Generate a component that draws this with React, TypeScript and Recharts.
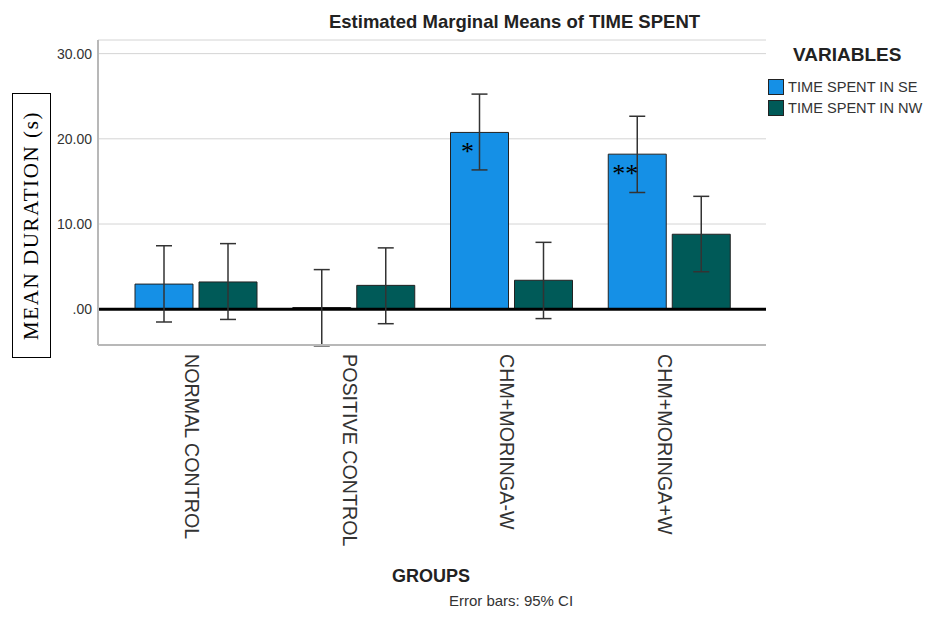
import { BarChart, Bar, XAxis, YAxis, CartesianGrid, ErrorBar, ReferenceLine, Legend, LabelList } from 'recharts';

const groups = ['NORMAL CONTROL', 'POSITIVE CONTROL', 'CHM+MORINGA-W', 'CHM+MORINGA+W'];

// TIME SPENT IN SE
const seMean = [2.95, 0.2, 20.75, 18.2];
const seLow = [-1.5, -4.3, 16.35, 13.7];
const seHigh = [7.45, 4.65, 25.25, 22.65];
const seMarks = ['', '', '*', '**'];

// TIME SPENT IN NW
const nwMean = [3.2, 2.8, 3.4, 8.8];
const nwLow = [-1.2, -1.7, -1.1, 4.4];
const nwHigh = [7.7, 7.2, 7.85, 13.25];

const yTicks = [0, 10, 20, 30];

const SE_COLOR = '#1590e6';
const NW_COLOR = '#005a58';
const FONT = '"Liberation Sans", Arial, sans-serif';
const SERIF = '"Liberation Serif", "Times New Roman", serif';

const data = groups.map((g, i) => ({
  group: g,
  se: seMean[i],
  seErr: [seMean[i] - seLow[i], seHigh[i] - seMean[i]],
  seMark: seMarks[i],
  nw: nwMean[i],
  nwErr: [nwMean[i] - nwLow[i], nwHigh[i] - nwMean[i]],
}));

const legendItems = [
  { label: 'TIME SPENT IN SE', color: SE_COLOR },
  { label: 'TIME SPENT IN NW', color: NW_COLOR },
];

const formatY = (v: number) => (v === 0 ? '.00' : v.toFixed(2));

const GroupTick = (props: any) => {
  const { x, y, payload } = props;
  return (
    <text
      transform={`translate(${x - 4},${y + 7}) rotate(90)`}
      textAnchor="start"
      dominantBaseline="central"
      fontSize={19.7}
      fontFamily={FONT}
      fill="#333"
    >
      {payload.value}
    </text>
  );
};

const MarkLabel = (props: any) => {
  const { x, y, value } = props;
  if (!value) return null;
  return (
    <text x={x + 17} y={y + 28} textAnchor="middle" fontSize={26} fontFamily={SERIF} fill="#000">
      {value}
    </text>
  );
};

const LegendBox = () => (
  <div style={{ fontFamily: FONT, width: 160 }}>
    <div style={{ fontWeight: 'bold', fontSize: 19, color: '#222', marginLeft: 25, marginBottom: 10, lineHeight: '22px' }}>
      VARIABLES
    </div>
    {legendItems.map((item) => (
      <div key={item.label} style={{ display: 'flex', alignItems: 'center', height: 21, whiteSpace: 'nowrap' }}>
        <span style={{ width: 14, height: 14, background: item.color, border: '1px solid #222', marginRight: 4, flexShrink: 0 }} />
        <span style={{ fontSize: 14.6, color: '#333' }}>{item.label}</span>
      </div>
    ))}
  </div>
);

export default function App() {
  return (
    <div style={{ position: 'absolute', left: 0, top: 0, width: 929, height: 624, background: '#fff', overflow: 'hidden', fontFamily: FONT }}>
      <div style={{ position: 'absolute', left: 0, width: 1029, top: 11, textAlign: 'center', fontWeight: 'bold', fontSize: 18.5, color: '#222' }}>
        Estimated Marginal Means of TIME SPENT
      </div>

      <BarChart
        width={929}
        height={624}
        data={data}
        margin={{ top: 40, right: 163, bottom: 79, left: 38 }}
        barSize={58}
        barGap={6}
      >
        <CartesianGrid vertical={false} stroke="#d4d4d4" />
        <XAxis
          dataKey="group"
          height={200}
          padding={{ left: 19, right: 18 }}
          tickLine={false}
          tickSize={0}
          axisLine={{ stroke: '#b8b8b8', strokeWidth: 2 }}
          tick={<GroupTick />}
          interval={0}
        />
        <YAxis
          width={60}
          domain={[-4.2, 31.6]}
          allowDataOverflow
          ticks={yTicks}
          tickFormatter={formatY}
          tickLine={false}
          tickSize={0}
          tickMargin={6}
          axisLine={{ stroke: '#b8b8b8', strokeWidth: 2 }}
          tick={{ fontSize: 14, fill: '#333', fontFamily: FONT }}
        />
        <ReferenceLine y={0} stroke="#000" strokeWidth={3} />
        <Legend
          layout="vertical"
          align="center"
          verticalAlign="middle"
          content={<LegendBox />}
          wrapperStyle={{ left: 768, top: 44, width: 160 }}
        />
        <Bar dataKey="se" name="TIME SPENT IN SE" fill={SE_COLOR} stroke="#222" strokeWidth={1} isAnimationActive={false}>
          <ErrorBar dataKey="seErr" width={8} stroke="#333" strokeWidth={1.5} direction="y" />
          <LabelList dataKey="seMark" content={<MarkLabel />} />
        </Bar>
        <Bar dataKey="nw" name="TIME SPENT IN NW" fill={NW_COLOR} stroke="#222" strokeWidth={1} isAnimationActive={false}>
          <ErrorBar dataKey="nwErr" width={8} stroke="#333" strokeWidth={1.5} direction="y" />
        </Bar>
      </BarChart>

      <div
        style={{
          position: 'absolute',
          left: 12,
          top: 93,
          width: 37,
          height: 263,
          border: '1px solid #000',
          display: 'flex',
          alignItems: 'center',
          justifyContent: 'center',
        }}
      >
        <div
          style={{
            transform: 'rotate(-90deg)',
            whiteSpace: 'nowrap',
            fontFamily: SERIF,
            fontSize: 21,
            letterSpacing: 1.6,
            color: '#000',
          }}
        >
          MEAN DURATION (s)
        </div>
      </div>

      <div style={{ position: 'absolute', left: 331, width: 200, top: 566, textAlign: 'center', fontWeight: 'bold', fontSize: 18, color: '#222' }}>
        GROUPS
      </div>
      <div style={{ position: 'absolute', left: 411, width: 200, top: 592, textAlign: 'center', fontSize: 15, color: '#333' }}>
        Error bars: 95% CI
      </div>
    </div>
  );
}
